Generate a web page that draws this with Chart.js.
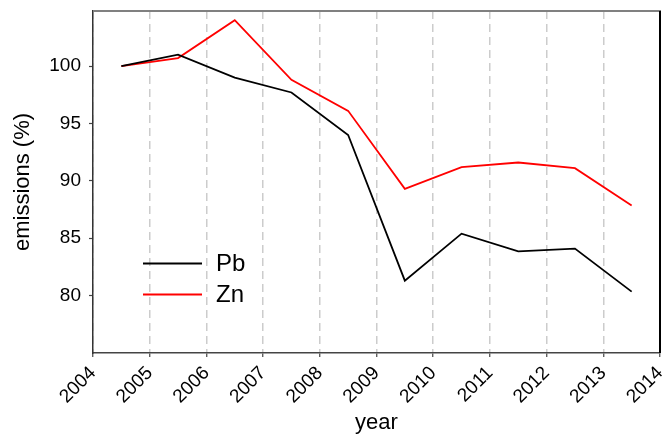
<!DOCTYPE html>
<html>
<head>
<meta charset="utf-8">
<script src="https://cdn.jsdelivr.net/npm/chart.js@4"></script>
<style>
html,body{margin:0;padding:0;background:#fff;}
#wrap{width:663px;height:436px;}
</style>
</head>
<body>
<div id="wrap"><canvas id="c" width="663" height="436"></canvas></div>
<script>
const years = [2004.5, 2005.5, 2006.5, 2007.5, 2008.5, 2009.5, 2010.5, 2011.5, 2012.5, 2013.5];
const pbValues = [100, 101.0, 99.0, 97.7, 94.0, 81.3, 85.4, 83.85, 84.1, 80.35];
const znValues = [100, 100.7, 104.0, 98.8, 96.1, 89.3, 91.2, 91.6, 91.1, 87.85];
const xTickLabels = [2004, 2005, 2006, 2007, 2008, 2009, 2010, 2011, 2012, 2013, 2014];
const yTickLabels = [80, 85, 90, 95, 100];
const seriesNames = ['Pb', 'Zn'];
const seriesColors = ['#000000', '#ff0000'];

const FONT = "'Liberation Sans', Arial, sans-serif";

const framePlugin = {
  id: 'frame',
  afterDraw(chart) {
    const ctx = chart.ctx;
    const a = chart.chartArea;
    ctx.save();
    ctx.strokeStyle = '#808080';
    ctx.lineWidth = 2;
    ctx.beginPath();
    ctx.moveTo(a.left, a.top);
    ctx.lineTo(a.right + 1, a.top);
    ctx.stroke();
    ctx.strokeStyle = '#000000';
    ctx.lineWidth = 2;
    ctx.beginPath();
    ctx.moveTo(a.right, a.top);
    ctx.lineTo(a.right, a.bottom);
    ctx.stroke();
    const lx0 = 143, lx1 = 202, tx = 216;
    const rows = [263.5, 294.5];
    ctx.font = '24px ' + FONT;
    ctx.textBaseline = 'middle';
    ctx.textAlign = 'left';
    seriesNames.forEach((n, i) => {
      ctx.strokeStyle = seriesColors[i];
      ctx.lineWidth = 1.8;
      ctx.beginPath();
      ctx.moveTo(lx0, rows[i]);
      ctx.lineTo(lx1, rows[i]);
      ctx.stroke();
      ctx.fillStyle = '#000';
      ctx.fillText(n, tx, rows[i] + 1);
    });
    ctx.restore();
  }
};

new Chart(document.getElementById('c'), {
  type: 'line',
  data: {
    datasets: [
      { label: seriesNames[0], data: years.map((x, i) => ({x, y: pbValues[i]})), borderColor: seriesColors[0], borderWidth: 1.8, pointRadius: 0, tension: 0, fill: false },
      { label: seriesNames[1], data: years.map((x, i) => ({x, y: znValues[i]})), borderColor: seriesColors[1], borderWidth: 1.8, pointRadius: 0, tension: 0, fill: false }
    ]
  },
  options: {
    responsive: false,
    animation: false,
    devicePixelRatio: 1,
    layout: { padding: { top: 11, right: 3, left: 0, bottom: 0 } },
    plugins: { legend: { display: false }, tooltip: { enabled: false } },
    scales: {
      x: {
        type: 'linear',
        min: 2004, max: 2014,
        afterBuildTicks(scale) { scale.ticks = xTickLabels.map(v => ({ value: v })); },
        afterFit(scale) { scale.height = 83; scale.paddingLeft = 0; scale.paddingRight = 0; },
        ticks: {
          autoSkip: false,
          maxRotation: 45, minRotation: 45,
          padding: 5,
          color: '#000',
          font: { family: FONT, size: 19 },
          callback: (v) => String(v)
        },
        grid: {
          display: true,
          drawOnChartArea: true,
          drawTicks: true,
          color: '#cccccc',
          lineWidth: 1.5,
          tickLength: 4,
          tickColor: '#444444',
          tickWidth: 1.2,
          tickBorderDash: []
        },
        border: { display: true, color: '#444444', width: 1.5, dash: [8, 5] },
        title: { display: true, text: 'year', color: '#000', font: { family: FONT, size: 22 }, padding: { top: 2, bottom: 0 } }
      },
      y: {
        type: 'linear',
        min: 75, max: 104.8,
        afterBuildTicks(scale) { scale.ticks = yTickLabels.map(v => ({ value: v })); },
        afterFit(scale) { scale.width = 93; scale.paddingTop = 0; scale.paddingBottom = 0; },
        ticks: {
          padding: 8,
          color: '#000',
          font: { family: FONT, size: 19 },
          callback: (v) => String(v)
        },
        grid: {
          display: true,
          drawOnChartArea: false,
          drawTicks: true,
          tickLength: 4,
          tickColor: '#444444',
          tickWidth: 1.2
        },
        border: { display: true, color: '#333333', width: 1.5 },
        title: { display: true, text: 'emissions (%)', color: '#000', font: { family: FONT, size: 22 }, padding: { top: 10, bottom: 0 } }
      }
    }
  },
  plugins: [framePlugin]
});
</script>
</body>
</html>
